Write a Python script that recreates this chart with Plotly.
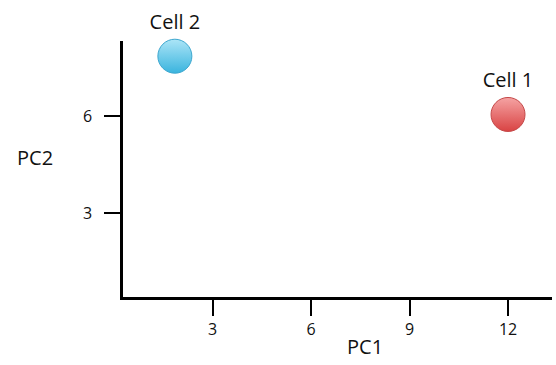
import plotly.graph_objects as go

# two cells in principal component space
cells = ["Cell 1", "Cell 2"]
pc1 = [12, 1.85]
pc2 = [6.05, 7.85]
top_colors = ["#f5a3a3", "#ace5f7"]
bottom_colors = ["#d94343", "#3ab4de"]
edge_colors = ["#c44848", "#3da7cf"]

x_ticks = [3, 6, 9, 12]
y_ticks = [3, 6]

FONT = "Open Sans"

fig = go.Figure()
fig.add_trace(
    go.Scatter(
        x=pc1,
        y=pc2,
        mode="markers+text",
        text=cells,
        textposition="top center",
        textfont=dict(family=FONT, size=20, color="#111111"),
        marker=dict(
            size=34,
            color=top_colors,
            gradient=dict(type="vertical", color=bottom_colors),
            line=dict(width=1, color=edge_colors),
        ),
        hoverinfo="skip",
        showlegend=False,
        cliponaxis=False,
    )
)

axis_common = dict(
    showline=True,
    linecolor="black",
    linewidth=2.5,
    showgrid=False,
    zeroline=False,
    ticks="outside",
    ticklen=16,
    tickwidth=2,
    tickcolor="black",
    tickfont=dict(family=FONT, size=16, color="#111111"),
)

fig.update_xaxes(
    range=[0.27, 13.34],
    tickvals=x_ticks,
    ticktext=[str(v) for v in x_ticks],
    **axis_common,
)
fig.update_yaxes(
    range=[0.41, 8.32],
    tickvals=y_ticks,
    ticktext=[str(v) for v in y_ticks],
    ticklabelstandoff=9,
    **axis_common,
)

# axis titles placed as annotations
fig.add_annotation(text="PC1", xref="paper", yref="paper", x=0.563, y=-0.195,
                   xanchor="center", yanchor="middle",
                   showarrow=False, font=dict(family=FONT, size=20, color="#111111"))
fig.add_annotation(text="PC2", xref="paper", yref="paper", x=-0.205, y=0.545,
                   xanchor="center", yanchor="middle",
                   showarrow=False, font=dict(family=FONT, size=20, color="#111111"))

fig.update_layout(
    width=556,
    height=365,
    margin=dict(l=123, r=4, t=41, b=68),
    plot_bgcolor="white",
    paper_bgcolor="white",
)

fig.write_html("out.html", config={"displayModeBar": False},
               post_script="document.body.style.margin='0';")
